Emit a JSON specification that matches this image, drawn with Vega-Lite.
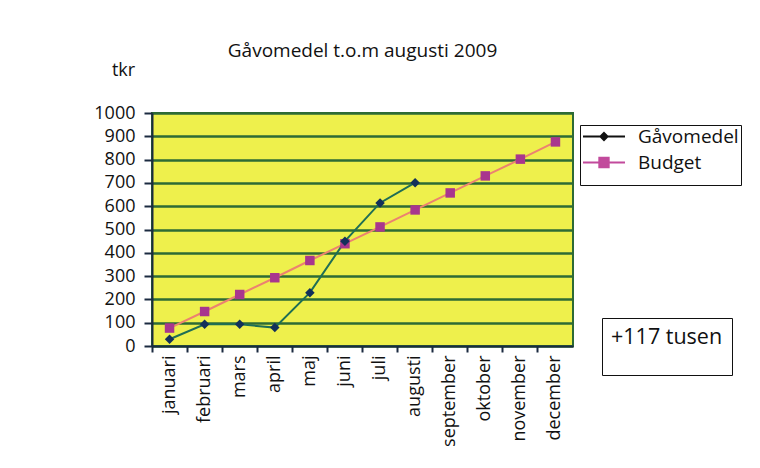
{
  "$schema": "https://vega.github.io/schema/vega-lite/v6.json",
  "width": 421,
  "height": 233,
  "autosize": {"type": "none"},
  "padding": {"left": 152, "top": 113, "right": 187, "bottom": 122},
  "background": "white",
  "title": {
    "text": "Gåvomedel t.o.m augusti 2009",
    "font": "Open Sans",
    "fontSize": 19,
    "fontWeight": "normal",
    "color": "#111111",
    "anchor": "middle",
    "frame": "group",
    "offset": 0
  },
  "config": {
    "view": {"fill": "#eef04c", "stroke": "#2d6b35", "strokeWidth": 2},
    "font": "Open Sans"
  },
  "data": {
    "values": [
      {"maanad": "januari", "serie": "Gåvomedel", "tkr": 29},
      {"maanad": "februari", "serie": "Gåvomedel", "tkr": 93},
      {"maanad": "mars", "serie": "Gåvomedel", "tkr": 93},
      {"maanad": "april", "serie": "Gåvomedel", "tkr": 79},
      {"maanad": "maj", "serie": "Gåvomedel", "tkr": 229},
      {"maanad": "juni", "serie": "Gåvomedel", "tkr": 450},
      {"maanad": "juli", "serie": "Gåvomedel", "tkr": 614},
      {"maanad": "augusti", "serie": "Gåvomedel", "tkr": 701},
      {"maanad": "januari", "serie": "Budget", "tkr": 77},
      {"maanad": "februari", "serie": "Budget", "tkr": 148},
      {"maanad": "mars", "serie": "Budget", "tkr": 221},
      {"maanad": "april", "serie": "Budget", "tkr": 293},
      {"maanad": "maj", "serie": "Budget", "tkr": 367},
      {"maanad": "juni", "serie": "Budget", "tkr": 439},
      {"maanad": "juli", "serie": "Budget", "tkr": 511},
      {"maanad": "augusti", "serie": "Budget", "tkr": 584},
      {"maanad": "september", "serie": "Budget", "tkr": 657},
      {"maanad": "oktober", "serie": "Budget", "tkr": 730},
      {"maanad": "november", "serie": "Budget", "tkr": 802},
      {"maanad": "december", "serie": "Budget", "tkr": 876}
    ]
  },
  "encoding": {
    "x": {
      "field": "maanad",
      "type": "nominal",
      "sort": ["januari", "februari", "mars", "april", "maj", "juni", "juli", "augusti", "september", "oktober", "november", "december"],
      "scale": {"type": "band", "paddingInner": 0, "paddingOuter": 0},
      "axis": {
        "title": null,
        "labelAngle": 270,
        "labelAlign": "right",
        "labelBaseline": "middle",
        "labelFont": "Open Sans",
        "labelFontSize": 18,
        "labelColor": "#111111",
        "labelPadding": 3,
        "ticks": true,
        "tickSize": 6,
        "tickWidth": 2,
        "tickColor": "#1b2a40",
        "bandPosition": 0,
        "domainColor": "#1b2a40",
        "domainWidth": 2,
        "grid": false
      }
    },
    "y": {
      "field": "tkr",
      "type": "quantitative",
      "scale": {"domain": [0, 1000], "nice": false},
      "axis": {
        "values": [0, 100, 200, 300, 400, 500, 600, 700, 800, 900, 1000],
        "format": "d",
        "title": "tkr",
        "titleFont": "Open Sans",
        "titleFontSize": 18,
        "titleFontWeight": "normal",
        "titleColor": "#111111",
        "titleAngle": 0,
        "titleAlign": "center",
        "titleBaseline": "middle",
        "titleX": -29,
        "titleY": -43,
        "labelFont": "Open Sans",
        "labelFontSize": 18,
        "labelColor": "#111111",
        "labelPadding": 9,
        "tickSize": 8,
        "tickWidth": 2,
        "tickColor": "#1b2a40",
        "domainColor": "#1b2a40",
        "domainWidth": 2,
        "grid": true,
        "gridColor": "#2d6b35",
        "gridWidth": 2.5
      }
    }
  },
  "layer": [
    {
      "transform": [{"filter": "datum.serie == 'Budget'"}],
      "mark": {"type": "line", "strokeWidth": 2, "color": "#ec8270"}
    },
    {
      "transform": [{"filter": "datum.serie != 'Budget'"}],
      "mark": {"type": "line", "strokeWidth": 2, "color": "#1f6e55"}
    },
    {
      "transform": [{"filter": "datum.serie == 'Budget'"}],
      "mark": {"type": "point", "shape": "square", "filled": true, "size": 90, "opacity": 1, "color": "#a8368e"}
    },
    {
      "transform": [{"filter": "datum.serie != 'Budget'"}],
      "mark": {"type": "point", "shape": "diamond", "filled": true, "size": 90, "opacity": 1, "color": "#13305a"}
    },
    {
      "mark": {"type": "point", "opacity": 0},
      "encoding": {
        "shape": {
          "field": "serie",
          "type": "nominal",
          "scale": {"domain": ["Gåvomedel", "Budget"], "range": ["M-1,0H3.94M1.47,-0.42L1.89,0L1.47,0.42L1.05,0Z", "M-1,0H3.94M0.92,-0.55H2.02V0.55H0.92Z"]},
          "legend": {
            "title": " ",
            "titleOrient": "bottom",
            "titleFontSize": 8,
            "titlePadding": 2,
            "orient": "none",
            "legendX": 428,
            "legendY": 12,
            "padding": 2,
            "rowPadding": 6,
            "labelFont": "Open Sans",
            "labelFontSize": 19,
            "labelColor": "#111111",
            "labelOffset": 37,
            "symbolSize": 289,
            "symbolStrokeWidth": 2,
            "symbolOpacity": 1,
            "strokeColor": "#111111",
            "fillColor": "white"
          }
        },
        "stroke": {
          "field": "serie",
          "type": "nominal",
          "scale": {"domain": ["Gåvomedel", "Budget"], "range": ["#111111", "#c24a9c"]}
        },
        "fill": {
          "field": "serie",
          "type": "nominal",
          "scale": {"domain": ["Gåvomedel", "Budget"], "range": ["#111111", "#c24a9c"]}
        }
      }
    },
    {
      "transform": [{"filter": "datum.maanad == 'december'"}],
      "mark": {"type": "point"},
      "encoding": {
        "opacity": {
          "field": "maanad",
          "type": "ordinal",
          "scale": {"type": "ordinal", "range": [0, 0]},
          "legend": {
            "title": ["+117 tusen", " "],
            "orient": "none",
            "legendX": 450,
            "legendY": 205,
            "titleFont": "Open Sans",
            "titleFontSize": 21.5,
            "titleLineHeight": 17,
            "titleFontWeight": "normal",
            "titleColor": "#111111",
            "titlePadding": 0,
            "padding": 9,
            "labelExpr": "''",
            "symbolOpacity": 0,
            "symbolSize": 1,
            "strokeColor": "#111111",
            "fillColor": "white"
          }
        }
      }
    }
  ]
}
